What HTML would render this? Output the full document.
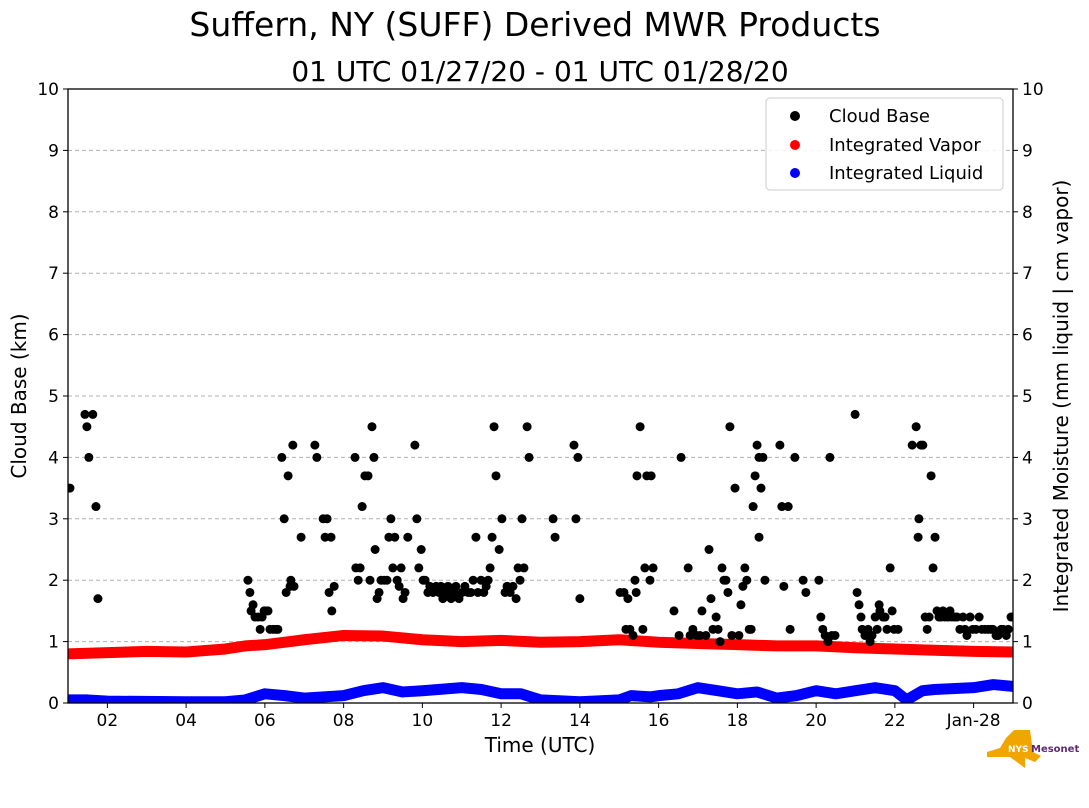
<!DOCTYPE html>
<html><head><meta charset="utf-8"><style>
body{margin:0;background:#fff;font-family:"DejaVu Sans","Liberation Sans",sans-serif;}
</style></head><body>
<svg id="chart" width="1089" height="804" xmlns="http://www.w3.org/2000/svg" font-family="DejaVu Sans, Liberation Sans, sans-serif">
<defs><clipPath id="plotclip"><rect x="68" y="89" width="945" height="614"/></clipPath></defs>
<text x="535" y="36" font-size="33" text-anchor="middle">Suffern, NY (SUFF) Derived MWR Products</text>
<text x="540" y="81" font-size="28" text-anchor="middle">01 UTC 01/27/20 - 01 UTC 01/28/20</text>
<g id="grid"></g>
<g id="series" clip-path="url(#plotclip)"></g>
<rect x="68" y="89" width="945" height="614" fill="none" stroke="#000" stroke-width="1.3"/>
<g id="axes"></g>
<text transform="translate(26,396) rotate(-90)" font-size="20" text-anchor="middle">Cloud Base (km)</text>
<text transform="translate(1068,396) rotate(-90)" font-size="20" text-anchor="middle">Integrated Moisture (mm liquid | cm vapor)</text>
<text x="540" y="752" font-size="20" text-anchor="middle">Time (UTC)</text>
<g>
<rect x="766" y="98" width="237" height="92" rx="4" fill="#fff" fill-opacity="0.85" stroke="#ccc"/>
<circle cx="795" cy="116" r="5" fill="#000"/><text x="829" y="122" font-size="18">Cloud Base</text>
<circle cx="795" cy="145" r="5" fill="red"/><text x="829" y="151" font-size="18">Integrated Vapor</text>
<circle cx="795" cy="173" r="5" fill="blue"/><text x="829" y="179" font-size="18">Integrated Liquid</text>
</g>
<g>
<path d="M987,752 L1000,748 L1006,738 L1014,730 L1030,730 L1033,752 L1041,756 L1035,762 L1025,758 L1025,768 L1010,757 L987,757 Z" fill="#f0a500"/>
<text x="1008" y="752" font-size="9" font-weight="bold" fill="#fff">NYS</text>
<text x="1031" y="752" font-size="10" font-weight="bold" fill="#5b2c6f">Mesonet</text>
</g>
</svg>
<script>
const cloudHours=[1.05,1.43,1.48,1.53,1.63,1.71,1.76,5.57,5.62,5.65,5.70,5.75,5.83,5.88,5.93,5.98,6.03,6.08,6.13,6.21,6.28,6.33,6.43,6.49,6.54,6.59,6.64,6.66,6.71,6.74,6.92,7.27,7.32,7.48,7.53,7.58,7.63,7.68,7.70,7.76,8.29,8.31,8.37,8.42,8.47,8.54,8.62,8.67,8.72,8.77,8.80,8.85,8.90,8.95,9.03,9.10,9.15,9.20,9.25,9.30,9.36,9.41,9.46,9.51,9.56,9.63,9.81,9.86,9.91,9.97,10.02,10.07,10.14,10.19,10.27,10.35,10.42,10.47,10.52,10.60,10.65,10.73,10.80,10.85,10.93,11.01,11.08,11.16,11.23,11.29,11.36,11.41,11.49,11.56,11.62,11.67,11.72,11.77,11.82,11.87,11.95,12.02,12.10,12.15,12.23,12.30,12.38,12.43,12.48,12.53,12.58,12.66,12.71,13.32,13.37,13.85,13.90,13.95,14.00,15.02,15.12,15.17,15.22,15.27,15.35,15.40,15.43,15.45,15.53,15.60,15.65,15.70,15.78,15.81,15.86,16.39,16.52,16.57,16.75,16.80,16.87,16.97,17.05,17.10,17.20,17.28,17.33,17.38,17.46,17.51,17.56,17.61,17.66,17.71,17.76,17.81,17.86,17.94,18.04,18.09,18.14,18.19,18.24,18.30,18.35,18.40,18.45,18.50,18.55,18.55,18.60,18.65,18.70,19.08,19.13,19.18,19.29,19.34,19.46,19.67,19.74,20.07,20.12,20.17,20.23,20.30,20.35,20.40,20.48,20.99,21.04,21.09,21.14,21.17,21.24,21.32,21.37,21.42,21.50,21.55,21.60,21.62,21.70,21.75,21.80,21.88,21.93,21.98,22.08,22.44,22.54,22.59,22.61,22.66,22.71,22.77,22.82,22.87,22.92,22.97,23.02,23.07,23.12,23.17,23.22,23.27,23.35,23.40,23.45,23.53,23.58,23.65,23.73,23.78,23.83,23.91,23.98,24.06,24.14,24.21,24.29,24.37,24.44,24.49,24.57,24.62,24.70,24.75,24.83,24.88,24.95];
const cloudKm=[3.5,4.7,4.5,4.0,4.7,3.2,1.7,2.0,1.8,1.5,1.6,1.4,1.4,1.2,1.4,1.5,1.5,1.5,1.2,1.2,1.2,1.2,4.0,3.0,1.8,3.7,1.9,2.0,4.2,1.9,2.7,4.2,4.0,3.0,2.7,3.0,1.8,2.7,1.5,1.9,4.0,2.2,2.0,2.2,3.2,3.7,3.7,2.0,4.5,4.0,2.5,1.7,1.8,2.0,2.0,2.0,2.7,3.0,2.2,2.7,2.0,1.9,2.2,1.7,1.8,2.7,4.2,3.0,2.2,2.5,2.0,2.0,1.8,1.9,1.8,1.9,1.8,1.9,1.7,1.8,1.9,1.7,1.8,1.9,1.7,1.8,1.9,1.8,1.8,2.0,2.7,1.8,2.0,1.8,1.9,2.0,2.2,2.7,4.5,3.7,2.5,3.0,1.8,1.9,1.8,1.9,1.7,2.2,2.0,3.0,2.2,4.5,4.0,3.0,2.7,4.2,3.0,4.0,1.7,1.8,1.8,1.2,1.7,1.2,1.1,2.0,1.8,3.7,4.5,1.2,2.2,3.7,2.0,3.7,2.2,1.5,1.1,4.0,2.2,1.1,1.2,1.1,1.1,1.5,1.1,2.5,1.7,1.2,1.4,1.2,1.0,2.2,2.0,2.0,1.8,4.5,1.1,3.5,1.1,1.6,1.9,2.2,2.0,1.2,1.2,3.2,3.7,4.2,4.0,2.7,3.5,4.0,2.0,4.2,3.2,1.9,3.2,1.2,4.0,2.0,1.8,2.0,1.4,1.2,1.1,1.0,4.0,1.1,1.1,4.7,1.8,1.6,1.4,1.2,1.1,1.2,1.0,1.1,1.4,1.2,1.6,1.5,1.4,1.4,1.2,2.2,1.5,1.2,1.2,4.2,4.5,2.7,3.0,4.2,4.2,1.4,1.2,1.4,3.7,2.2,2.7,1.5,1.4,1.4,1.5,1.4,1.4,1.5,1.4,1.4,1.4,1.2,1.4,1.2,1.1,1.4,1.2,1.2,1.4,1.2,1.2,1.2,1.2,1.2,1.1,1.1,1.2,1.2,1.1,1.2,1.4,1.4];
const vaporHours=[1,2,3,4,5,5.5,6,7,8,9,10,11,12,13,14,15,16,17,18,19,20,21,22,23,24,25];
const vaporValues=[0.80,0.82,0.84,0.83,0.88,0.93,0.95,1.03,1.10,1.09,1.03,1.00,1.02,0.99,1.00,1.03,0.99,0.97,0.95,0.93,0.93,0.90,0.88,0.86,0.84,0.83];
const liquidHours=[1,1.5,2,4,5,5.5,6,6.5,7,7.5,8,8.5,9,9.5,10,11,11.5,12,12.5,13,14,15,15.3,15.8,16,16.5,17,17.5,18,18.5,19,19.5,20,20.5,21,21.5,22,22.3,22.7,23,24,24.5,25];
const liquidValues=[0.05,0.05,0.03,0.02,0.02,0.05,0.15,0.12,0.08,0.10,0.12,0.20,0.25,0.18,0.20,0.25,0.22,0.15,0.15,0.05,0.02,0.05,0.12,0.10,0.12,0.15,0.25,0.20,0.15,0.18,0.08,0.12,0.20,0.15,0.20,0.25,0.20,0.05,0.20,0.22,0.25,0.30,0.27];
const yTicks=[0,1,2,3,4,5,6,7,8,9,10];
const xTickHours=[2,4,6,8,10,12,14,16,18,20,22,24];
const xTickLabels=["02","04","06","08","10","12","14","16","18","20","22","Jan-28"];

const NS="http://www.w3.org/2000/svg";
const X0=68,X1=1013,Y0=703,Y1=89;
const xs=h=>X0+(h-1)/24*(X1-X0);
const ys=v=>Y0-v/10*(Y0-Y1);
function mk(tag,attrs,parent){const e=document.createElementNS(NS,tag);for(const k in attrs)e.setAttribute(k,attrs[k]);parent.appendChild(e);return e;}
const grid=document.getElementById('grid'),axes=document.getElementById('axes'),ser=document.getElementById('series');
yTicks.forEach(v=>{
  const y=ys(v);
  if(v>0&&v<10){const g=mk('line',{x1:X0,x2:X1,y1:y,y2:y,stroke:'#b0b0b0','stroke-dasharray':'4,3','stroke-width':1},grid);
  
  }
  mk('line',{x1:X0-5,x2:X0,y1:y,y2:y,stroke:'#000'},axes);
  mk('line',{x1:X1,x2:X1+5,y1:y,y2:y,stroke:'#000'},axes);
  const t=mk('text',{x:X0-9,y:y+6,'font-size':17,'text-anchor':'end'},axes);t.textContent=v;
  
  
  const t2=mk('text',{x:X1+9,y:y+6,'font-size':17},axes);t2.textContent=v;
  
  
});
xTickHours.forEach((h,i)=>{
  const x=xs(h);
  mk('line',{x1:x,x2:x,y1:Y0,y2:Y0+5,stroke:'#000'},axes);
  const t=mk('text',{x:x,y:Y0+23,'font-size':17,'text-anchor':'middle'},axes);t.textContent=xTickLabels[i];
  
  
});
function line(hs,vs,color,name){
  const p=mk('polyline',{points:hs.map((h,i)=>xs(h)+','+ys(vs[i])).join(' '),fill:'none',stroke:color,'stroke-width':11,'stroke-linecap':'round','stroke-linejoin':'round'},ser);
  
  
}
line(vaporHours,vaporValues,'red','integrated-vapor-line');
line(liquidHours,liquidValues,'blue','integrated-liquid-line');
cloudHours.forEach((h,i)=>{
  const c=mk('circle',{cx:xs(h),cy:ys(cloudKm[i]),r:4.5,fill:'#000'},ser);
  
  
});
</script>
</body></html>
